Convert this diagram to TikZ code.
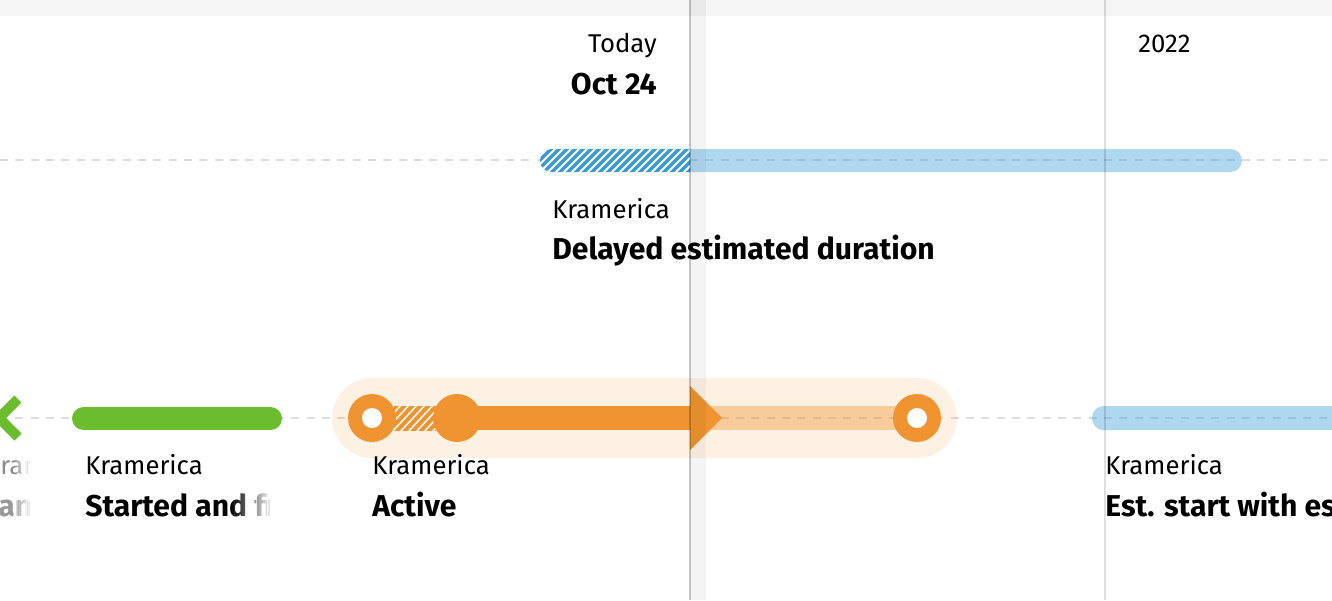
\documentclass[tikz,border=0pt]{standalone}
\usepackage{fontspec}
\setmainfont{Fira Sans}
\usepackage{xcolor}
\usepackage{tikz}

\definecolor{planblue}{HTML}{3A9AD9}
\definecolor{donegreen}{HTML}{6CBD2E}
\definecolor{activeorange}{HTML}{EF9430}
\definecolor{gridgray}{HTML}{DDDDDD}
\definecolor{bandgray}{HTML}{F5F5F5}

\begin{document}
\begin{tikzpicture}[x=0.75pt, y=-0.75pt]
		% Define the styles for the labels and the bars
		\tikzstyle{company}=[anchor=base west, inner sep=0pt, font=\fontsize{19.3}{23}\selectfont]
		\tikzstyle{project}=[anchor=base west, inner sep=0pt, font=\fontsize{22.6}{27}\selectfont\bfseries]
		\tikzstyle{lightbar}=[fill=planblue, opacity=0.4]
		\tikzstyle{gridline}=[gridgray, line width=1.5pt, dash pattern=on 6pt off 5.5pt]

		\useasboundingbox (0,0) rectangle (1332,600);
		\clip (0,0) rectangle (1332,600);

		% Background, header and grid
		\fill[bandgray] (0,0) rectangle (1332,16);
		\draw[gridline] (0,160) -- (1332,160);
		\draw[gridline] (0,418) -- (1332,418);

		% Delayed estimated duration
		\fill[lightbar, rounded corners=8.6pt] (540,149) rectangle (1242,172);
		\begin{scope}
			\clip (530,140) rectangle (690,180);
			\clip[rounded corners=8.6pt] (540,149) rectangle (720,172);
			\fill[white] (530,140) rectangle (690,180);
			\foreach \s in {500,508,...,700}
				\draw[planblue, line width=2.6pt] (\s,176) -- (\s+30,146);
		\end{scope}

		% Previous item, running in from the left
		\draw[donegreen, line width=7.5pt, miter limit=10] (18,399) -- (-1,418) -- (18,437);
		\begin{scope}
			\clip (0,440) rectangle (33,530);
			\node (prevcompany) [company, text=black!45] at (-15,474) {Kram};
			\node (prevproject) [project, text=black!40] at (-2,516) {an};
		\end{scope}
		\foreach \i in {0,...,11}
			\fill[white, opacity=\i/11] (12+\i*1.8,445) rectangle +(1.9,80);

		% Started and finished
		\draw[donegreen, line width=17.25pt, line cap=round] (83.5,418.5) -- (270.5,418.5);
		\node (donecompany) [company] at (85,474) {Kramerica};
		\begin{scope}
			\clip (80,485) rectangle (272,525);
			\node (doneproject) [project] at (85,516) {Started and fi};
		\end{scope}
		\foreach \i in {0,...,19}
			\fill[white, opacity=\i/19] (230+\i*2.2,485) rectangle +(2.3,40);

		% Active
		\fill[activeorange, opacity=0.13, rounded corners=30pt] (332,378) rectangle (957,458);
		\fill[activeorange, opacity=0.41] (700,406) rectangle (917,430);
		\begin{scope}
			\clip (394,406) rectangle (436,430);
			\fill[white] (394,406) rectangle (436,430);
			\foreach \s in {370,378,...,440}
				\draw[activeorange, line width=3pt] (\s,434) -- (\s+30,402);
		\end{scope}
		\fill[activeorange] (457,406) rectangle (692,430);
		\fill[activeorange] (690,386) -- (722,418) -- (690,450) -- cycle;
		\fill[activeorange] (372,418) circle (18pt);
		\fill[white] (372,418) circle (7.5pt);
		\fill[activeorange] (457,418) circle (18pt);
		\fill[activeorange] (917,418) circle (18pt);
		\fill[white] (917,418) circle (7.5pt);
		\node (activecompany) [company] at (372,474) {Kramerica};
		\node (activeproject) [project] at (372,516) {Active};

		% Estimated start
		\fill[lightbar, rounded corners=8.6pt] (1092,406) rectangle (1400,430);
		\node (estcompany) [company] at (1105,474) {Kramerica};
		\node (estproject) [project] at (1105,516) {Est. start with es};

		% Delayed item labels
		\node (delaycompany) [company] at (552,218) {Kramerica};
		\node (delayproject) [project] at (552,259) {Delayed estimated duration};

		% Today marker and year marker
		\fill[black, opacity=0.045] (690,0) rectangle (706,600);
		\draw[black, opacity=0.22, line width=1.5pt] (690,0) -- (690,600);
		\draw[black, opacity=0.13, line width=1.5pt] (1105,0) -- (1105,600);
		\node (today) [company, anchor=base east] at (657,52) {Today};
		\node (todaydate) [project, anchor=base east] at (657,94) {Oct 24};
		\node (year) [company] at (1138,52) {2022};
	\end{tikzpicture}
\end{document}
